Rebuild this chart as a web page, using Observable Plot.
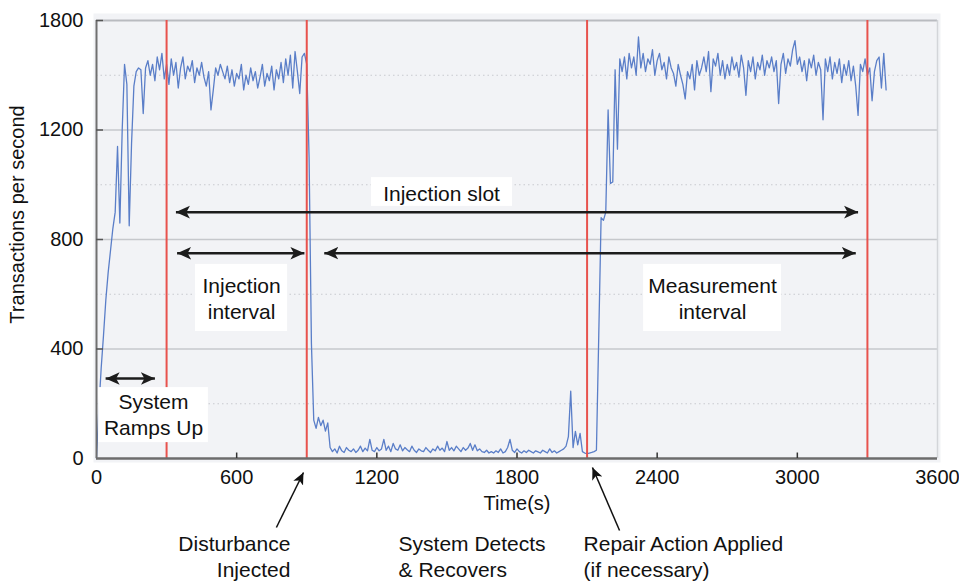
<!DOCTYPE html>
<html><head><meta charset="utf-8">
<script src="https://cdn.jsdelivr.net/npm/d3@7"></script>
<script src="https://cdn.jsdelivr.net/npm/@observablehq/plot@0.6"></script>
<style>html,body{margin:0;padding:0;background:#fff;overflow:hidden}</style>
</head><body><div id="chart"></div>
<script>
// ---- data ----
const sampleSeconds = 10; // one reading every 10 s, starting at t = 0
const tps = [
  0,180,330,450,580,680,760,840,900,1140,
  860,1200,1560,1450,850,1150,1440,1520,1540,1530,
  1290,1540,1580,1500,1560,1470,1600,1530,1620,1480,
  1560,1450,1590,1500,1570,1430,1540,1600,1480,1550,
  1520,1580,1460,1540,1500,1570,1490,1440,1520,1310,
  1420,1540,1500,1560,1520,1480,1550,1460,1530,1440,
  1510,1480,1560,1420,1500,1450,1540,1470,1520,1430,
  1490,1560,1440,1510,1470,1550,1420,1530,1480,1570,
  1460,1590,1500,1610,1430,1630,1520,1400,1600,1620,
  1560,1100,420,140,110,150,120,140,100,130,
  40,25,35,20,45,28,22,40,30,25,
  35,22,30,45,25,38,28,70,30,25,
  40,28,35,70,30,45,25,55,35,30,
  50,28,40,32,25,45,30,22,35,28,
  25,40,30,22,35,28,45,30,38,25,
  62,30,40,28,45,35,25,40,30,38,
  55,30,50,28,35,25,22,30,20,25,
  20,28,22,35,20,25,40,70,30,22,
  35,25,20,28,22,30,25,20,28,24,
  20,30,25,20,35,22,28,20,25,30,
  35,45,80,246,40,99,50,92,25,20,
  18,20,22,25,30,450,880,870,900,1310,
  1005,1010,1530,1130,1590,1520,1600,1480,1620,1540,
  1600,1500,1710,1540,1620,1520,1590,1560,1640,1500,
  1580,1620,1530,1570,1480,1600,1540,1510,1440,1560,
  1500,1450,1370,1520,1480,1560,1420,1580,1500,1540,
  1600,1520,1630,1410,1590,1550,1620,1500,1580,1480,
  1560,1500,1600,1530,1570,1490,1610,1540,1390,1580,
  1520,1600,1480,1570,1530,1610,1500,1580,1540,1600,
  1520,1580,1345,1560,1620,1510,1590,1550,1640,1690,
  1560,1600,1520,1580,1470,1590,1540,1610,1500,1570,
  1530,1256,1590,1520,1600,1480,1570,1510,1590,1460,
  1560,1500,1580,1470,1550,1440,1280,1560,1520,1590,
  1500,1540,1360,1520,1580,1600,1430,1620,1420
];
const xTicks = [0, 600, 1200, 1800, 2400, 3000, 3600];
const xTickMarks = [600, 1200, 1800, 2400, 3000];
const yTicks = [0, 400, 800, 1200, 1800];
const yMajorGrid = [400, 800, 1200];
const yMinorGrid = [200, 600, 1000, 1500];
const phaseBoundaries = [300, 900, 2100, 3300];

// annotation spans (double-headed arrows)
const spans = [
  {from: 340, to: 3260, y: 900},
  {from: 345, to: 890, y: 750},
  {from: 975, to: 3250, y: 750},
  {from: 39, to: 250, y: 292}
];
// white label boxes
const boxes = [
  {x1: 1177, x2: 1781, y1: 921, y2: 1026},
  {x1: 424, x2: 818, y1: 464, y2: 709},
  {x1: 2342, x2: 2932, y1: 464, y2: 709},
  {x1: 9, x2: 479, y1: 58, y2: 259}
];
const insideLabels = [
  {x: 1477, y: 972, text: "Injection slot"},
  {x: 621, y: 588, text: "Injection\ninterval"},
  {x: 2637, y: 588, text: "Measurement\ninterval"},
  {x: 244, y: 163, text: "System\nRamps Up"}
];
const belowRightAligned = [{x: 830, y: -356, text: "Disturbance\nInjected"}];
const belowLeftAligned = [
  {x: 1293, y: -356, text: "System Detects\n& Recovers"},
  {x: 2085, y: -356, text: "Repair Action Applied\n(if necessary)"}
];
const calloutArrows = [
  {x1: 770, y1: -252, x2: 886, y2: -51},
  {x1: 2239, y1: -263, x2: 2123, y2: -33}
];

const series = tps.map((v, i) => ({t: i * sampleSeconds, v}));

function head(size) {
  return (color) => {
    const ns = "http://www.w3.org/2000/svg";
    const m = document.createElementNS(ns, "marker");
    m.setAttribute("viewBox", "-10 -5 10 10");
    m.setAttribute("markerWidth", size);
    m.setAttribute("markerHeight", size);
    m.setAttribute("markerUnits", "userSpaceOnUse");
    m.setAttribute("orient", "auto-start-reverse");
    m.setAttribute("refX", 0);
    m.setAttribute("refY", 0);
    const p = document.createElementNS(ns, "path");
    p.setAttribute("d", "M0,0L-10,-4.5L-7.5,0L-10,4.5Z");
    p.setAttribute("fill", color);
    p.setAttribute("stroke", "none");
    m.appendChild(p);
    return m;
  };
}
const bigHead = head(14);
const smallHead = head(12);

// The printed axis places its labelled ticks at equal spacing (the last step is 600, not 400)
const plotTop = 20, plotBottom = 458;
const yRange = yTicks.map((_, i) => plotBottom - (i / (yTicks.length - 1)) * (plotBottom - plotTop));

const fontStack = "'Liberation Sans', Arial, Helvetica, sans-serif";
const fmt = d => String(d);
const chart = Plot.plot({
  width: 959, height: 582,
  marginTop: plotTop, marginRight: 22, marginBottom: 582 - plotBottom, marginLeft: 96,
  style: {fontFamily: fontStack, fontSize: "20px", color: "#111", background: "#fff", overflow: "visible"},
  x: {type: "linear", domain: [0, 3600]},
  y: {type: "linear", domain: yTicks, range: yRange},
  marks: [
    Plot.frame({fill: "#f2f3f6", stroke: null, insetTop: -7, insetLeft: -3, insetRight: -3, insetBottom: -4}),
    Plot.gridY(yMinorGrid, {stroke: "#c8cacf", strokeOpacity: 1, strokeDasharray: "1.5,3"}),
    Plot.gridY(yMajorGrid, {stroke: "#c6c8cc", strokeOpacity: 1, strokeWidth: 1.5}),
    Plot.ruleY([1800], {stroke: "#b9bbc0", strokeWidth: 2}),
    Plot.ruleX([3600], {stroke: "#d3d5d9", strokeWidth: 1.5}),
    Plot.line(series, {x: "t", y: "v", stroke: "#5a7ec8", strokeWidth: 1.3}),
    Plot.ruleX(phaseBoundaries, {stroke: "#e8524d", strokeWidth: 2}),
    Plot.ruleX([0], {stroke: "#707070", strokeWidth: 2}),
    Plot.ruleY([0], {stroke: "#6c6c6c", strokeWidth: 2.5}),
    Plot.ruleX(xTickMarks, {y1: 0, y2: 20, stroke: "#333", strokeWidth: 1.5}),
    Plot.ruleY(yTicks.slice(1), {x1: 0, x2: 30, stroke: "#555", strokeWidth: 1.5}),
    Plot.axisX(xTicks, {tickSize: 0, tickPadding: 11, label: null, fontSize: 20, tickFormat: fmt}),
    Plot.axisY(yTicks, {tickSize: 0, tickPadding: 13, label: null, fontSize: 20, tickFormat: fmt}),
    Plot.rect(boxes, {x1: "x1", x2: "x2", y1: "y1", y2: "y2", fill: "white"}),
    Plot.link(spans, {x1: "from", x2: "to", y1: "y", y2: "y", stroke: "#1c1c1c", strokeWidth: 2.5, markerStart: bigHead, markerEnd: bigHead}),
    Plot.text(insideLabels, {x: "x", y: "y", text: "text", fontSize: 21, lineHeight: 1.24, fill: "#111"}),
    Plot.text(belowRightAligned, {x: "x", y: "y", text: "text", fontSize: 21, lineHeight: 1.2, textAnchor: "end", fill: "#111"}),
    Plot.text(belowLeftAligned, {x: "x", y: "y", text: "text", fontSize: 21, lineHeight: 1.2, textAnchor: "start", fill: "#111"}),
    Plot.link(calloutArrows, {x1: "x1", y1: "y1", x2: "x2", y2: "y2", stroke: "#111", strokeWidth: 1.5, markerEnd: smallHead}),
    Plot.text(["Time(s)"], {frameAnchor: "bottom", dy: 51, fontSize: 20, fill: "#111"}),
    Plot.text(["Transactions per second"], {frameAnchor: "left", textAnchor: "middle", dx: -79, dy: -25, rotate: -90, fontSize: 20, fill: "#111"})
  ]
});
document.getElementById("chart").appendChild(chart);
</script></body></html>
